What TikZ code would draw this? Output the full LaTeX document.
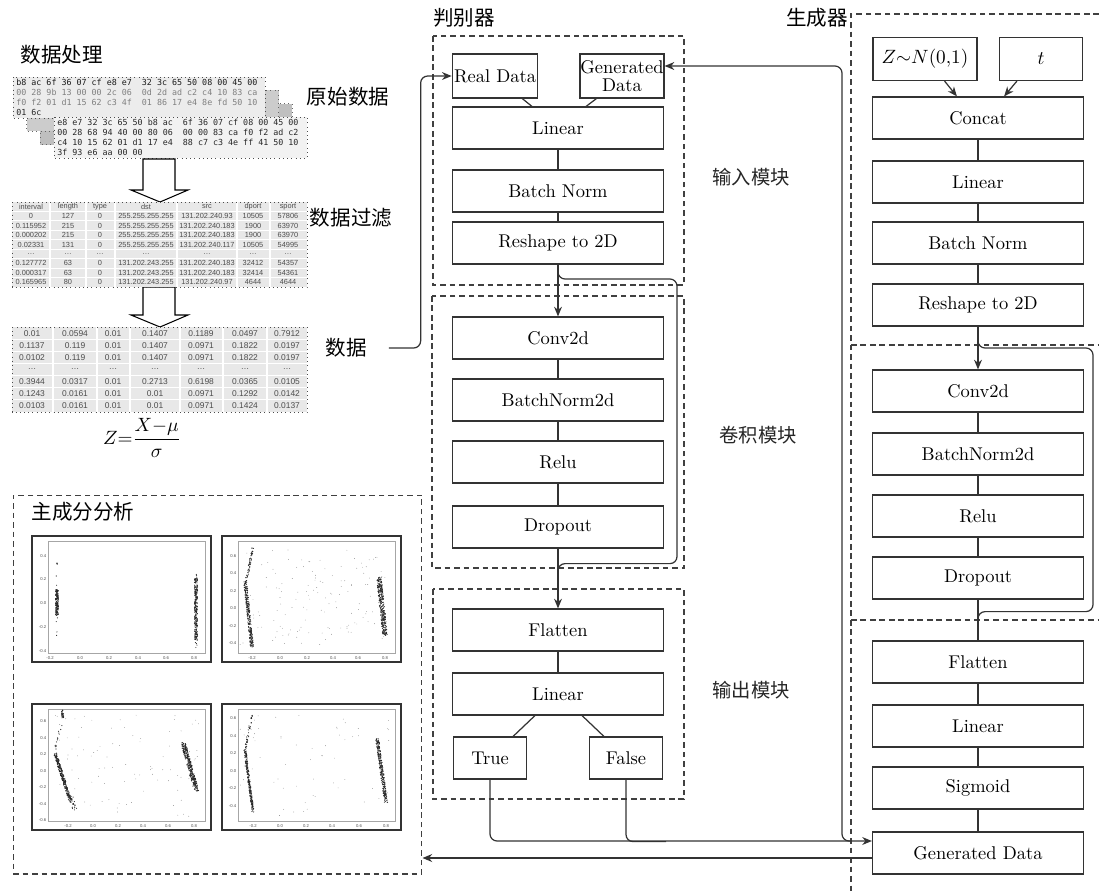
\documentclass[tikz,border=0pt]{standalone}
\usepackage{fontspec}
\usepackage{amsmath}
\newfontfamily\cjk{Noto Sans CJK SC}
\newfontfamily\hexfont{DejaVu Sans Mono}
\newfontfamily\tabfont{Liberation Sans}
\usetikzlibrary{calc,arrows.meta}

% scatter helpers for the PCA plots
\newcommand\pcaline[6]{%
  \foreach \k in {1,...,#6}{%
    \pgfmathsetmacro\pcat{rnd}%
    \pgfmathsetmacro\pcax{#1+\pcat*(#3-#1)+#5*rand}%
    \pgfmathsetmacro\pcay{#2+\pcat*(#4-#2)+0.4*#5*rand}%
    \fill[black!85] (\pcax,\pcay) circle (0.33pt);}}
\newcommand\pcanoise[5]{%
  \foreach \k in {1,...,#5}{%
    \pgfmathsetmacro\pcax{#1+rnd*(#3-#1)}%
    \pgfmathsetmacro\pcay{#2+rnd*(#4-#2)}%
    \fill[black!60] (\pcax,\pcay) circle (0.2pt);}}

\begin{document}
\begin{tikzpicture}[x=0.02cm, y=-0.02cm,
    blk/.style={draw=black!80, line width=0.7pt, minimum width=4.22cm, minimum height=0.84cm,
      inner sep=1pt, font=\fontsize{10.5}{11}\selectfont},
    modbox/.style={draw=black!75, line width=0.6pt, dash pattern=on 3.2pt off 2.2pt},
    link/.style={draw=black!80, line width=0.7pt},
    arr/.style={link, -{Stealth[length=5.5pt,width=4.5pt]}},
    title/.style={inner sep=0, font=\cjk\fontsize{11.7}{13}\selectfont},
    modlabel/.style={inner sep=0, font=\cjk\fontsize{11}{13}\selectfont, text=black!85},
    hexrow/.style={anchor=west, inner sep=0, font=\hexfont\fontsize{4.75}{5}\selectfont},
    cell/.style={inner sep=0, font=\tabfont\fontsize{4.2}{5}\selectfont, text=black!70},
    tick/.style={inner sep=0.3pt, font=\tabfont\fontsize{2.4}{3}\selectfont, text=black!70},
  ]
  \useasboundingbox (0,0) rectangle (1099,893);
  \pgfmathsetseed{11}

  % Data processing: raw packets
  \node[title] (sjcl) at (62,55) {数据处理};
  \foreach \k/\shade in {2/50,1/40}
    \draw[fill=gray!\shade, draw=black!60, dotted] ({13+13.7*\k},{77+13.3*\k}) rectangle ++(252,41);
  \draw[fill=gray!15, draw=black!70, dotted] (13,77) rectangle ++(252,41);
  \foreach \txt/\c [count=\i] in {{b8 ac 6f 36 07 cf e8 e7~ 32 3c 65 50 08 00 45 00}/90,
      {00 28 9b 13 00 00 2c 06~ 0d 2d ad c2 c4 10 83 ca}/50,
      {f0 f2 01 d1 15 62 c3 4f~ 01 86 17 e4 8e fd 50 10}/50, {01 6c}/85}
    \node[hexrow, text=black!\c] (hexa\i) at (16,{72+10*\i}) {\txt};
  \draw[fill=gray!10, draw=black!70, dotted] (54,117) rectangle ++(253,41);
  \foreach \txt [count=\i] in {{e8 e7 32 3c 65 50 b8 ac~ 6f 36 07 cf 08 00 45 00},
      {00 28 68 94 40 00 80 06~ 00 00 83 ca f0 f2 ad c2},
      {c4 10 15 62 01 d1 17 e4~ 88 c7 c3 4e ff 41 50 10}, {3f 93 e6 aa 00 00}}
    \node[hexrow, text=black!85] (hexb\i) at (57,{112+10*\i}) {\txt};
  \node[title] (ysj) at (348,97) {原始数据};

  % hollow arrows
  \draw[line width=0.6pt, fill=white] (143,159) -- (175,159) -- (175,190) -- (188,190) -- (160,202)
    -- (131,190) -- (143,190) -- cycle;
  \draw[line width=0.6pt, fill=white] (143,287) -- (175,287) -- (175,315) -- (188,315) -- (160,327)
    -- (131,315) -- (143,315) -- cycle;

  % filtered table
  \fill[gray!18] (12,202) rectangle (307,287);
  \foreach \xx in {50,86,115,177,237,270} \draw[white, line width=0.6pt] (\xx,202) -- (\xx,287);
  \foreach \r in {1,2,3,4,5,6,7,8} \draw[white, line width=0.6pt] (12,{202+9.44*\r}) -- (307,{202+9.44*\r});
  \draw[black!70, dotted] (12,202) rectangle (307,287);
  \foreach \row [count=\r] in {{interval,length,type,dst,src,dport,sport},
      {0,127,0,255.255.255.255,131.202.240.93,10505,57806},
      {0.115952,215,0,255.255.255.255,131.202.240.183,1900,63970},
      {0.000202,215,0,255.255.255.255,131.202.240.183,1900,63970},
      {0.02331,131,0,255.255.255.255,131.202.240.117,10505,54995},
      {\ldots,\ldots,\ldots,\ldots,\ldots,\ldots,\ldots},
      {0.127772,63,0,131.202.243.255,131.202.240.183,32412,54357},
      {0.000317,63,0,131.202.243.255,131.202.240.183,32414,54361},
      {0.165965,80,0,131.202.243.255,131.202.240.97,4644,4644}}{
    \foreach \val [count=\c] in \row {
      \pgfmathsetmacro\cx{{31,68,100,146,207,253,288}[\c-1]}
      \node[cell] (ta\r-\c) at (\cx,{197.3+9.44*\r}) {\val};
    }
  }
  \node[title] (sjgl) at (351,218) {数据过滤};

  % normalised table
  \fill[gray!18] (12,327) rectangle (307,412);
  \foreach \xx in {53,97,130,180,223,267} \draw[white, line width=0.6pt] (\xx,327) -- (\xx,412);
  \foreach \r in {1,2,3,4,5,6} \draw[white, line width=0.6pt] (12,{327+12.1*\r}) -- (307,{327+12.1*\r});
  \draw[black!70, dotted] (12,327) rectangle (307,412);
  \foreach \row [count=\r] in {{0.01,0.0594,0.01,0.1407,0.1189,0.0497,0.7912},
      {0.1137,0.119,0.01,0.1407,0.0971,0.1822,0.0197},
      {0.0102,0.119,0.01,0.1407,0.0971,0.1822,0.0197},
      {\ldots,\ldots,\ldots,\ldots,\ldots,\ldots,\ldots},
      {0.3944,0.0317,0.01,0.2713,0.6198,0.0365,0.0105},
      {0.1243,0.0161,0.01,0.01,0.0971,0.1292,0.0142},
      {0.0103,0.0161,0.01,0.01,0.0971,0.1424,0.0137}}{
    \foreach \val [count=\c] in \row {
      \pgfmathsetmacro\cx{{32,75,113,155,201,245,287}[\c-1]}
      \node[cell, font=\tabfont\fontsize{4.8}{5}\selectfont] (tb\r-\c) at (\cx,{321+12.1*\r}) {\val};
    }
  }
  \node[inner sep=0, font=\fontsize{11}{13}\selectfont] (zform) at (142,438) {$Z{=}\dfrac{X{-}\mu}{\sigma}$};
  \node[title] (shuju) at (346,348) {数据};

  % Discriminator
  \node[title] (pbq) at (464,18) {判别器};
  \draw[modbox] (433,36) rectangle (684,285);
  \draw[modbox] (432,296) rectangle (684,568);
  \draw[modbox] (433,589) rectangle (684,799);
  \node[blk, minimum width=1.68cm, minimum height=0.88cm] (d-real) at (495,76) {Real Data};
  \node[blk, minimum width=1.68cm, minimum height=0.88cm, align=center, inner sep=0,
    font=\fontsize{10.5}{10.5}\selectfont] (d-gen) at (622,76) {Generated\\Data};
  \node[blk] (d-lin) at (558,128) {Linear};
  \node[blk] (d-bn) at (558,191) {Batch Norm};
  \node[blk] (d-rs) at (558,243) {Reshape to 2D};
  \node[blk] (d-conv) at (558,338) {Conv2d};
  \node[blk] (d-bn2) at (558,400) {BatchNorm2d};
  \node[blk] (d-relu) at (558,462) {Relu};
  \node[blk] (d-drop) at (558,527) {Dropout};
  \node[blk] (d-flat) at (558,630) {Flatten};
  \node[blk] (d-lin2) at (558,694) {Linear};
  \node[blk, minimum width=1.46cm] (d-true) at (490,758) {True};
  \node[blk, minimum width=1.46cm] (d-false) at (626,758) {False};
  \node[modlabel] (srmk) at (751,177) {输入模块};
  \node[modlabel] (jjmk) at (758,435) {卷积模块};
  \node[modlabel] (scmk) at (751,690) {输出模块};

  % Generator
  \node[title] (scq) at (817,18) {生成器};
  \draw[modbox] (1099,14) -- (851,14) -- (851,893);
  \draw[modbox] (851,345) -- (1099,345);
  \draw[modbox] (851,620) -- (1099,620);
  \node[blk, minimum width=2.08cm, minimum height=0.86cm] (g-z) at (925,59) {$Z{\sim}N(0{,}1)$};
  \node[blk, minimum width=1.66cm, minimum height=0.86cm] (g-t) at (1041,59) {$t$};
  \node[blk] (g-cat) at (978,118) {Concat};
  \node[blk] (g-lin) at (978,182) {Linear};
  \node[blk] (g-bn) at (978,243) {Batch Norm};
  \node[blk] (g-rs) at (978,305) {Reshape to 2D};
  \node[blk] (g-conv) at (978,391) {Conv2d};
  \node[blk] (g-bn2) at (978,454) {BatchNorm2d};
  \node[blk] (g-relu) at (978,516) {Relu};
  \node[blk] (g-drop) at (978,578) {Dropout};
  \node[blk] (g-flat) at (978,662) {Flatten};
  \node[blk] (g-lin2) at (978,726) {Linear};
  \node[blk] (g-sig) at (978,788) {Sigmoid};
  \node[blk] (g-gen) at (978,853) {Generated Data};

  % PCA panel
  \node[modbox, minimum width=8.18cm, minimum height=7.58cm, inner sep=0] (pca) at (217.5,684.5) {};
  \node[title] (zcf) at (83,512) {主成分分析};
  \foreach \px/\py in {32/536, 222/536, 32/704, 222/704}{
    \draw[black!80, line width=1.2pt] (\px,\py) rectangle ++(179,126);
    \draw[black!35, line width=0.3pt] ({\px+16},{\py+5}) rectangle ({\px+173},{\py+117});
  }
  \foreach \v/\yy [count=\i] in {0.4/556,0.2/579,0.0/603,-0.2/627,-0.4/651}
    \node[tick, anchor=east] (p1y\i) at (47,\yy) {\v};
  \foreach \v/\xx [count=\i] in {-0.2/50,0.0/80,0.2/109,0.4/138,0.6/166,0.8/194}
    \node[tick] (p1x\i) at (\xx,658) {\v};
  \foreach \v/\yy [count=\i] in {0.6/556,0.4/573,0.2/591,0.0/608,-0.2/626,-0.4/643}
    \node[tick, anchor=east] (p2y\i) at (237,\yy) {\v};
  \foreach \v/\xx [count=\i] in {-0.2/252,0.0/280,0.2/307,0.4/333,0.6/358,0.8/385}
    \node[tick] (p2x\i) at (\xx,658) {\v};
  \foreach \v/\yy [count=\i] in {0.6/721,0.4/738,0.2/754,0.0/771,-0.2/787,-0.4/804,-0.6/820}
    \node[tick, anchor=east] (p3y\i) at (47,\yy) {\v};
  \foreach \v/\xx [count=\i] in {-0.2/68,0.0/93,0.2/118,0.4/143,0.6/168,0.8/194}
    \node[tick] (p3x\i) at (\xx,826) {\v};
  \foreach \v/\yy [count=\i] in {0.6/718,0.4/736,0.2/753,0.0/771,-0.2/788,-0.4/806}
    \node[tick, anchor=east] (p4y\i) at (237,\yy) {\v};
  \foreach \v/\xx [count=\i] in {-0.2/253,0.0/280,0.2/306,0.4/332,0.6/359,0.8/386}
    \node[tick] (p4x\i) at (\xx,826) {\v};
  % plot 1
  \pcaline{57}{590}{57}{615}{1.4}{160}
  \pcaline{57}{562}{57}{650}{0.8}{15}
  \pcaline{196}{578}{196}{640}{1.5}{260}
  \pcaline{196}{568}{196}{650}{1}{15}
  % plot 2
  \pcaline{245}{580}{252}{647}{1.6}{260}
  \pcaline{246}{582}{253}{547}{1}{50}
  \pcaline{379}{578}{385}{635}{2.4}{320}
  \pcanoise{240}{550}{385}{645}{140}
  % plot 3
  \pcaline{55}{753}{70}{800}{1.5}{260}
  \pcaline{62}{710}{63}{718}{1}{30}
  \pcaline{55}{750}{62}{720}{1.2}{15}
  \pcaline{70}{795}{75}{810}{2.5}{30}
  \pcaline{183}{743}{197}{792}{2.4}{320}
  \pcanoise{55}{715}{200}{818}{90}
  % plot 4
  \pcaline{245}{750}{253}{812}{1.1}{240}
  \pcaline{245}{750}{252}{715}{0.9}{40}
  \pcaline{377}{738}{386}{802}{1.6}{280}
  \pcanoise{240}{715}{390}{818}{60}

  % Connectors
  \draw[arr, rounded corners=4pt] ($(shuju.east)+(22,0)$) -| ($(d-real.west)+(-31,0)$) -- (d-real.west);
  \draw[link] ($(d-real.south east)+(-16,0)$) -- ($(d-lin.north west)+(80,0)$);
  \draw[link] ($(d-gen.south west)+(17,0)$) -- ($(d-lin.north east)+(-78,0)$);
  \foreach \a/\b in {d-lin/d-bn, d-bn/d-rs, d-conv/d-bn2, d-bn2/d-relu, d-relu/d-drop, d-flat/d-lin2,
      g-cat/g-lin, g-lin/g-bn, g-bn/g-rs, g-conv/g-bn2, g-bn2/g-relu, g-relu/g-drop,
      g-flat/g-lin2, g-lin2/g-sig, g-sig/g-gen}
    \draw[link] (\a) -- (\b);
  \draw[arr] (d-rs) -- (d-conv);
  \draw[arr] (d-drop) -- (d-flat);
  \coordinate (dsk) at (677,279);
  \draw[link, rounded corners=4pt] ($(d-rs.south)+(0,3)$) |- (dsk) |- ($(d-drop.south)+(0,15)$)
    -- ($(d-drop.south)+(0,26)$);
  \draw[link] ($(d-lin2.south west)+(83,0)$) -- ($(d-true.north east)+(-14,0)$);
  \draw[link] ($(d-lin2.south east)+(-82,0)$) -- ($(d-false.north west)+(15,0)$);
  \draw[arr, rounded corners=4pt] (d-true.south) |- ($(g-gen.west)+(0,-12)$);
  \draw[link, rounded corners=4pt] (d-false.south) |- ($(d-false.south)+(40,62)$);
  \coordinate (fb) at (842,66);
  \draw[arr, rounded corners=4pt] ($(g-gen.west)+(-22,-12)$) -| (fb) -- ($(d-gen.east)+(0,-10)$);
  \coordinate (gout) at ($(g-gen.west)+(0,5)$);
  \draw[arr] (gout) -- (gout -| pca.east);

  \draw[arr] ($(g-z.south east)+(-33,0)$) -- ($(g-cat.north west)+(85,0)$);
  \draw[arr] ($(g-t.south west)+(18,0)$) -- ($(g-cat.north east)+(-80,0)$);
  \draw[arr] (g-rs) -- (g-conv);
  \draw[link] (g-drop) -- (g-flat);
  \coordinate (gsk) at (1093,348);
  \draw[link, rounded corners=4pt] ($(g-rs.south)+(0,4)$) |- (gsk) |- ($(g-drop.south)+(0,12)$)
    -- ($(g-drop.south)+(0,22)$);
\end{tikzpicture}
\end{document}
